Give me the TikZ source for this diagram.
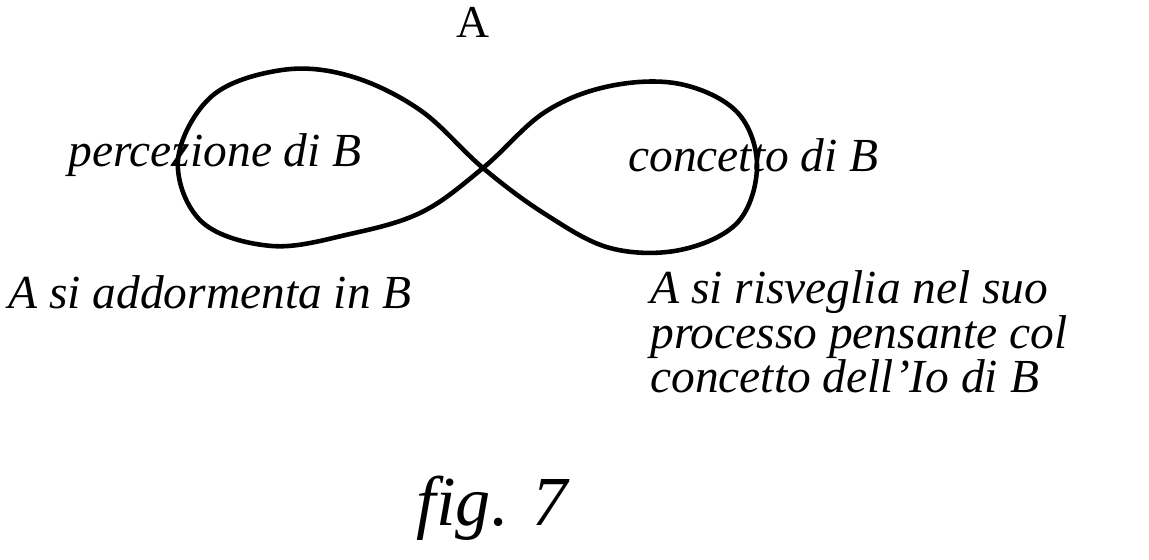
\documentclass[tikz,border=0pt]{standalone}
\usepackage{fontspec}
\setmainfont{Liberation Serif}
\usetikzlibrary{positioning}

\begin{document}
\begin{tikzpicture}[
  x=0.02cm, y=-0.02cm,
  hand/.style={font=\fontsize{27}{24}\selectfont\itshape, inner sep=0pt},
  loopline/.style={line width=2.6pt, line join=round}
]
\useasboundingbox (0,0) rectangle (1149,559);
% figure eight
\coordinate (X) at (483,168);
\draw[loopline] plot[smooth cycle, tension=0.6] coordinates {
  (X) (545,112) (610,86) (680,84) (737,112) (757,165) (738,222) (680,250)
  (610,248) (545,214)
  (X) (420,110) (350,76) (282,70) (212,96) (178,160) (202,222) (272,246)
  (350,234) (422,212)};
\node[inner sep=0pt, font=\fontsize{26}{28}\selectfont] (A) at (473,22) {A};
\node[hand, anchor=west] (perc) at (68,155) {percezione di B};
\node[hand, anchor=west] (conc) at (628,155) {concetto di B};
\node[hand, anchor=west] (dorm) at (8,292) {A si addormenta in B};
\node[hand, anchor=north west, align=left] (sveg) at (650,270)
  {A si risveglia nel suo\\processo pensante col\\concetto dell'Io di B};
\node[hand, font=\fontsize{40}{44}\selectfont\itshape] (fig) at (492,508) {fig. 7};
\end{tikzpicture}
\end{document}
